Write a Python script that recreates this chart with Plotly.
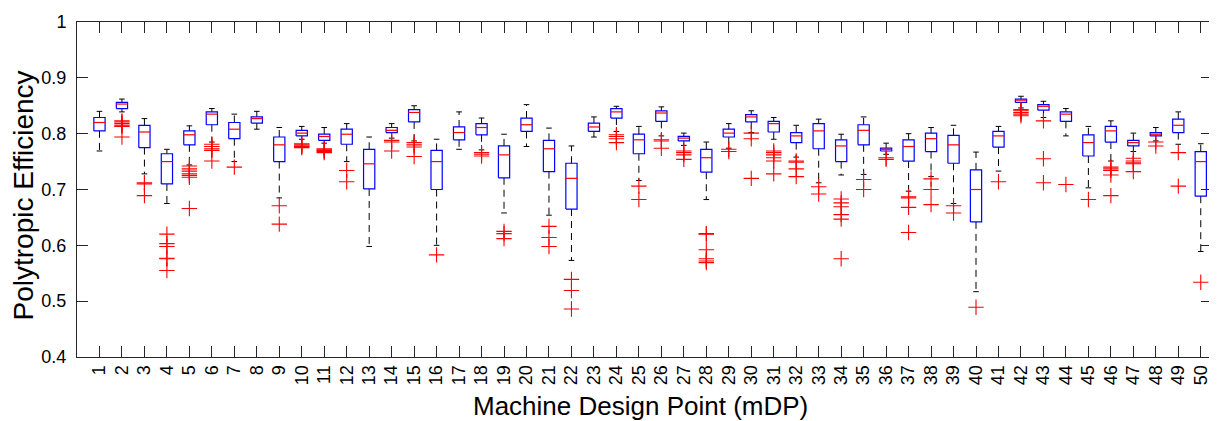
import plotly.graph_objects as go

# ---- data (one entry per machine design point) ----
design_points = list(range(1, 51))

upper_whisker = [0.840, 0.862, 0.827, 0.772, 0.814, 0.845, 0.835, 0.840, 0.811, 0.813,
                 0.811, 0.818, 0.794, 0.818, 0.850, 0.790, 0.839, 0.828, 0.799, 0.852,
                 0.810, 0.778, 0.830, 0.849, 0.813, 0.848, 0.801, 0.785, 0.818, 0.841,
                 0.829, 0.815, 0.826, 0.799, 0.830, 0.783, 0.800, 0.811, 0.815, 0.767,
                 0.813, 0.867, 0.858, 0.845, 0.813, 0.823, 0.801, 0.811, 0.839, 0.782]

q3 = [0.829, 0.856, 0.815, 0.764, 0.805, 0.839, 0.820, 0.830, 0.794, 0.806,
      0.799, 0.808, 0.772, 0.811, 0.843, 0.770, 0.812, 0.818, 0.778, 0.828,
      0.788, 0.747, 0.819, 0.845, 0.799, 0.841, 0.795, 0.772, 0.808, 0.834,
      0.822, 0.802, 0.818, 0.789, 0.816, 0.774, 0.789, 0.801, 0.797, 0.735,
      0.804, 0.862, 0.852, 0.839, 0.798, 0.813, 0.788, 0.802, 0.826, 0.768]

median = [0.820, 0.853, 0.803, 0.750, 0.798, 0.835, 0.808, 0.827, 0.780, 0.801,
          0.795, 0.799, 0.746, 0.806, 0.838, 0.750, 0.802, 0.811, 0.762, 0.816,
          0.773, 0.720, 0.812, 0.839, 0.789, 0.837, 0.792, 0.757, 0.801, 0.830,
          0.818, 0.796, 0.805, 0.778, 0.806, 0.772, 0.777, 0.791, 0.780, 0.700,
          0.796, 0.860, 0.849, 0.835, 0.784, 0.805, 0.784, 0.799, 0.815, 0.750]

q1 = [0.805, 0.845, 0.775, 0.710, 0.780, 0.816, 0.791, 0.819, 0.750, 0.796,
      0.788, 0.781, 0.701, 0.802, 0.821, 0.700, 0.789, 0.798, 0.721, 0.804,
      0.732, 0.665, 0.804, 0.828, 0.764, 0.822, 0.787, 0.731, 0.794, 0.821,
      0.803, 0.784, 0.773, 0.750, 0.780, 0.769, 0.751, 0.768, 0.747, 0.642,
      0.776, 0.856, 0.842, 0.822, 0.760, 0.785, 0.778, 0.796, 0.802, 0.688]

lower_whisker = [0.769, 0.839, 0.728, 0.675, 0.744, 0.785, 0.750, 0.808, 0.685, 0.790,
                 0.783, 0.750, 0.598, 0.792, 0.787, 0.600, 0.772, 0.771, 0.658, 0.777,
                 0.654, 0.573, 0.794, 0.804, 0.716, 0.796, 0.779, 0.682, 0.774, 0.802,
                 0.790, 0.758, 0.712, 0.726, 0.727, 0.763, 0.697, 0.723, 0.675, 0.517,
                 0.733, 0.846, 0.829, 0.796, 0.703, 0.751, 0.768, 0.787, 0.781, 0.589]

outliers = [
    [], [0.823, 0.821, 0.818, 0.815, 0.813, 0.794], [0.712, 0.710, 0.689],
    [0.620, 0.603, 0.598, 0.577, 0.576, 0.555], [0.742, 0.737, 0.733, 0.728, 0.725, 0.722, 0.666],
    [0.781, 0.777, 0.773, 0.770, 0.751], [0.740], [], [0.671, 0.638],
    [0.782, 0.780, 0.778, 0.777, 0.775], [0.773, 0.771, 0.770, 0.768, 0.766], [0.734, 0.714],
    [], [0.788, 0.785, 0.769], [0.784, 0.780, 0.776, 0.759], [0.583], [],
    [0.766, 0.763, 0.760], [0.625, 0.621, 0.612], [], [0.634, 0.614, 0.598],
    [0.539, 0.519, 0.486], [], [0.798, 0.795, 0.791, 0.784], [0.706, 0.682],
    [0.789, 0.787, 0.774], [0.769, 0.766, 0.762, 0.754],
    [0.621, 0.620, 0.592, 0.576, 0.572, 0.569], [0.772, 0.768], [0.801, 0.791, 0.720],
    [0.769, 0.766, 0.762, 0.757, 0.751, 0.728], [0.751, 0.749, 0.737, 0.723], [0.705, 0.692],
    [0.683, 0.676, 0.669, 0.655, 0.647, 0.576], [0.718, 0.700], [0.757, 0.754],
    [0.687, 0.685, 0.668, 0.623], [0.719, 0.700, 0.673], [0.671, 0.658], [0.489], [0.714],
    [0.843, 0.841, 0.838, 0.835, 0.832], [0.823, 0.755, 0.712], [0.709], [0.682],
    [0.740, 0.737, 0.734, 0.726, 0.689], [0.756, 0.751, 0.748, 0.746, 0.732], [0.785, 0.778],
    [0.766, 0.706], [0.534],
]

y_tick_vals = [0.4, 0.5, 0.6, 0.7, 0.8, 0.9, 1.0]
y_tick_text = ["0.4", "0.5", "0.6", "0.7", "0.8", "0.9", "1"]

# ---- geometry helpers (style only) ----
BOX_HALF = 0.25
CAP_HALF = 0.125
FONT = "Liberation Sans, Arial, Helvetica, sans-serif"

wx, wy, cx, cy, bx, by, mx, my, ox, oy = [], [], [], [], [], [], [], [], [], []
for i, x in enumerate(design_points):
    wx += [x, x, None, x, x, None]
    wy += [q3[i], upper_whisker[i], None, q1[i], lower_whisker[i], None]
    cx += [x - CAP_HALF, x + CAP_HALF, None, x - CAP_HALF, x + CAP_HALF, None]
    cy += [upper_whisker[i], upper_whisker[i], None, lower_whisker[i], lower_whisker[i], None]
    bx += [x - BOX_HALF, x + BOX_HALF, x + BOX_HALF, x - BOX_HALF, x - BOX_HALF, None]
    by += [q1[i], q1[i], q3[i], q3[i], q1[i], None]
    mx += [x - BOX_HALF, x + BOX_HALF, None]
    my += [median[i], median[i], None]
    for v in outliers[i]:
        ox.append(x)
        oy.append(v)

fig = go.Figure()
fig.add_trace(go.Scatter(x=wx, y=wy, mode="lines", hoverinfo="skip", showlegend=False,
                         line=dict(color="black", width=1, dash="7px,5px")))
fig.add_trace(go.Scatter(x=cx, y=cy, mode="lines", hoverinfo="skip", showlegend=False,
                         line=dict(color="black", width=1)))
fig.add_trace(go.Scatter(x=bx, y=by, mode="lines", hoverinfo="skip", showlegend=False,
                         line=dict(color="#0000FF", width=1.2)))
fig.add_trace(go.Scatter(x=mx, y=my, mode="lines", hoverinfo="skip", showlegend=False,
                         line=dict(color="#FF0000", width=1.2)))
fig.add_trace(go.Scatter(x=ox, y=oy, mode="markers", showlegend=False,
                         marker=dict(symbol="cross-thin-open", size=11, color="#FF0000",
                                     line=dict(color="#FF0000", width=1.1))))

axis_common = dict(showline=True, linecolor="#262626", linewidth=1, mirror="allticks",
                   ticks="inside", ticklen=11, tickwidth=1, tickcolor="#262626",
                   showgrid=False, zeroline=False, ticklabeloverflow="allow",
                   tickfont=dict(family=FONT, size=18, color="black"))

# page body has an 8px margin, so the figure is sized to fit the remaining window
fig.update_layout(
    width=1209, height=413,
    margin=dict(l=69, r=4, t=7, b=64),
    paper_bgcolor="white", plot_bgcolor="white",
    font=dict(family=FONT, color="black"),
    xaxis=dict(range=[0, 50.5], tickmode="array", tickvals=design_points,
               ticktext=[str(d) for d in design_points], tickangle=-90, **axis_common),
    yaxis=dict(range=[0.4, 1.0], tickmode="array", tickvals=y_tick_vals,
               ticktext=y_tick_text, ticklabelstandoff=6, **axis_common),
    annotations=[
        dict(text="Polytropic Efficiency", xref="paper", yref="paper", x=0, y=0.5,
             xanchor="center", yanchor="middle", textangle=-90, xshift=-54, yshift=-6,
             showarrow=False, font=dict(family=FONT, size=28, color="black")),
        dict(text="Machine Design Point (mDP)", xref="paper", yref="paper", x=0.5, y=0,
             xanchor="center", yanchor="middle", xshift=-4, yshift=-49, showarrow=False,
             font=dict(family=FONT, size=26, color="black")),
    ],
)

fig.write_html("out.html")
